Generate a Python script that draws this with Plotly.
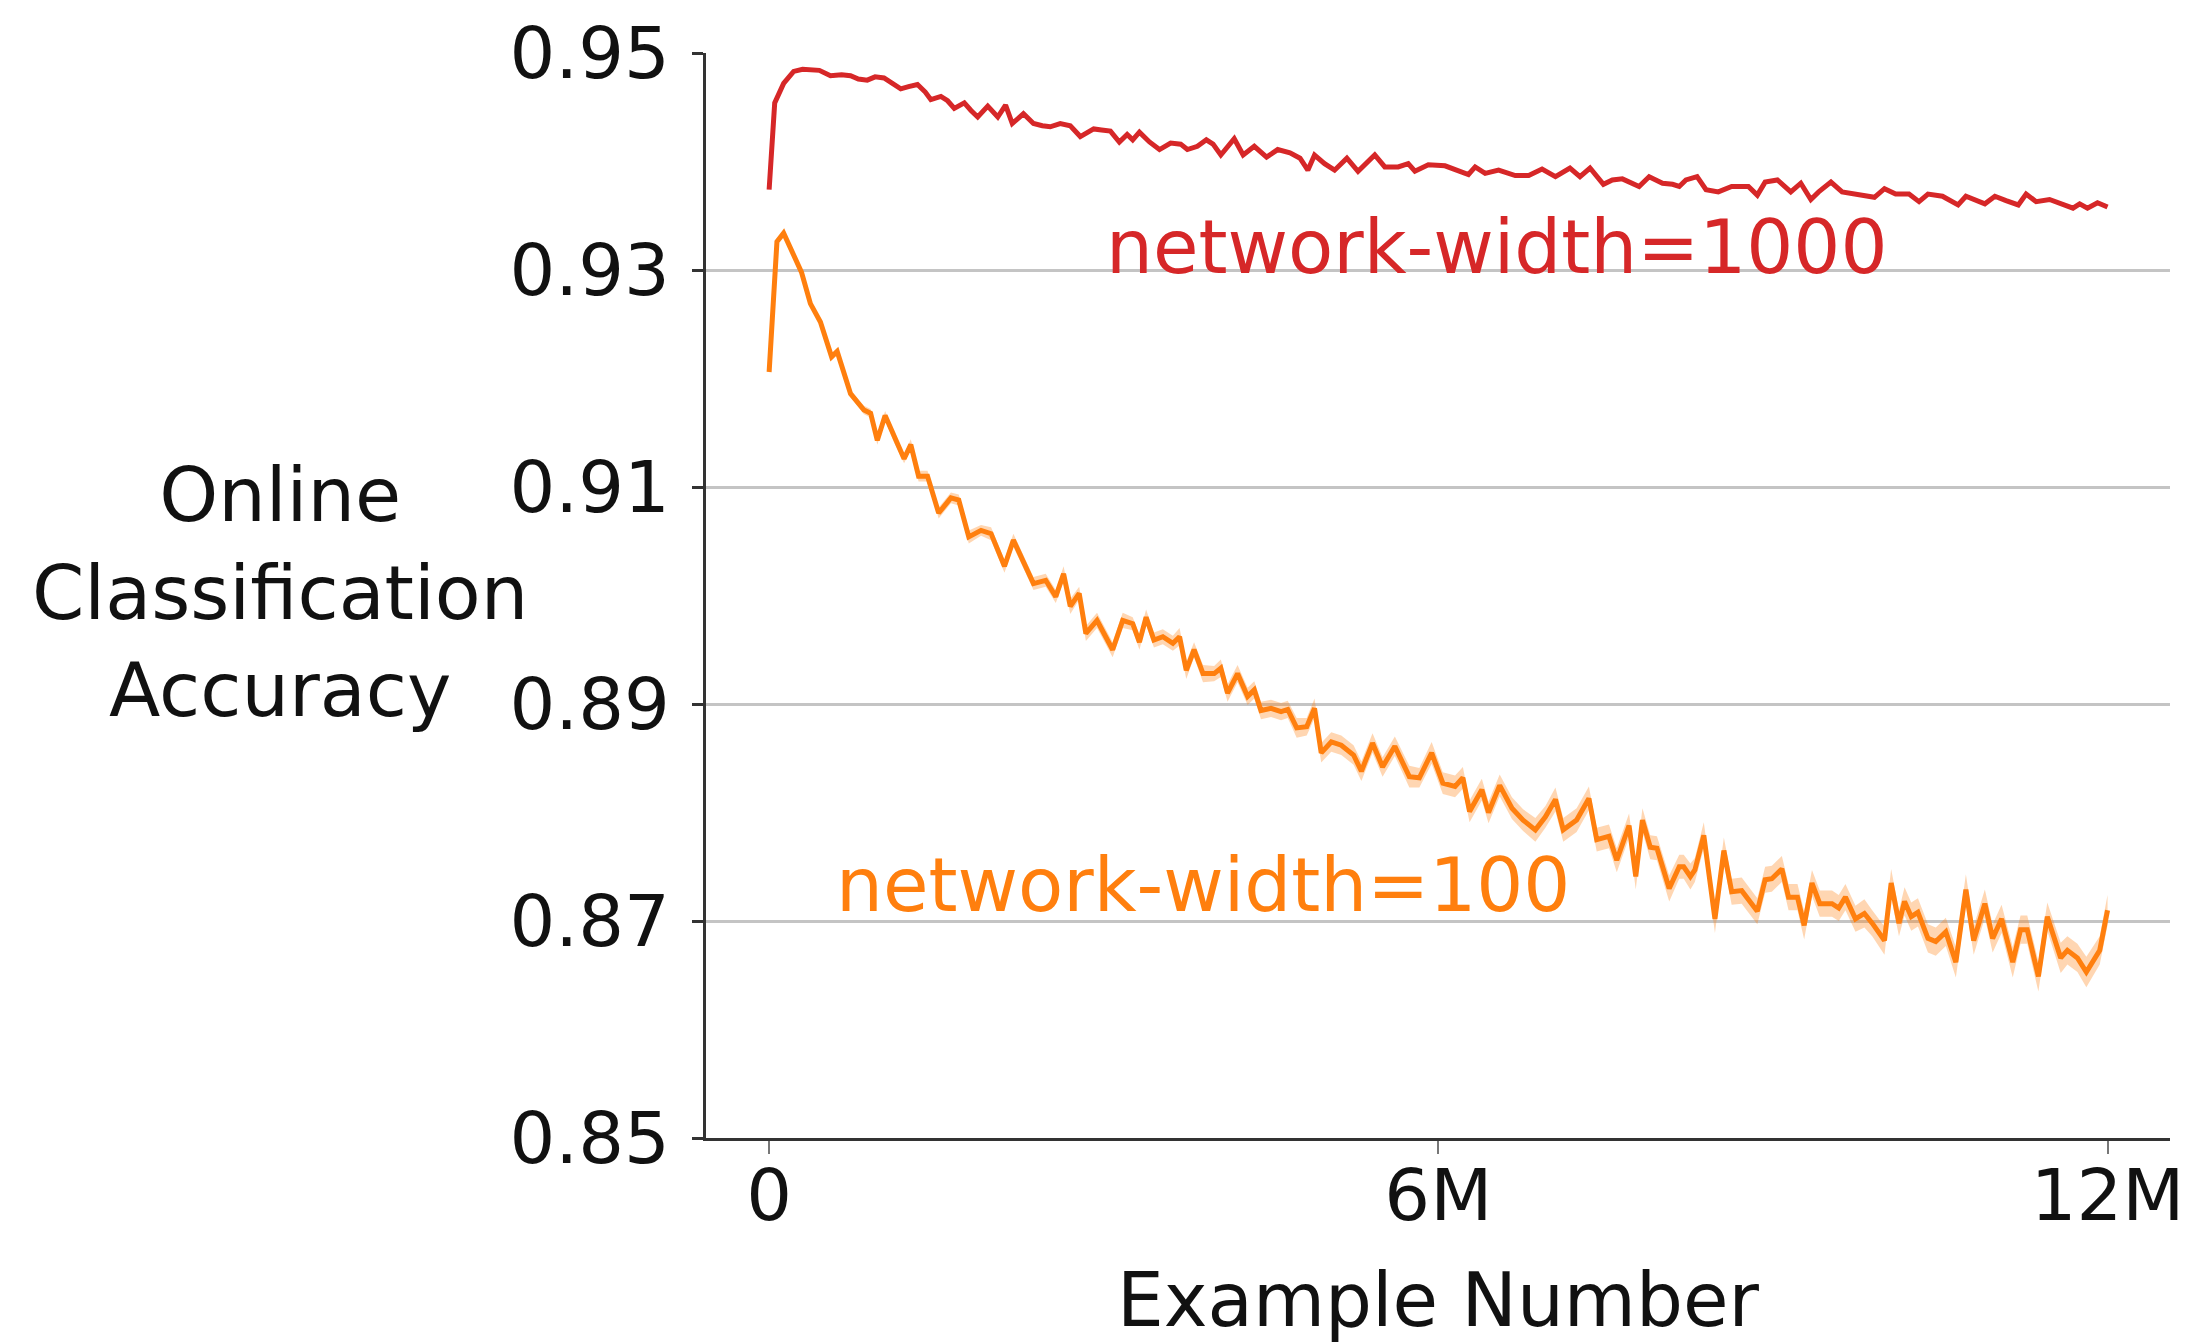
import plotly.graph_objects as go

# ---------------- data (x in millions of examples) ----------------
x_red_m = [
    0.00, 0.05, 0.13, 0.22, 0.30, 0.37, 0.45, 0.55, 0.65, 0.73,
    0.80, 0.88, 0.95, 1.03, 1.10, 1.18, 1.25, 1.33, 1.40, 1.45,
    1.54, 1.60, 1.66, 1.75, 1.81, 1.87, 1.96, 2.05, 2.12, 2.18,
    2.28, 2.37, 2.45, 2.52, 2.61, 2.70, 2.79, 2.91, 2.98, 3.06,
    3.14, 3.21, 3.26, 3.32, 3.41, 3.50, 3.60, 3.69, 3.75, 3.84,
    3.92, 3.98, 4.05, 4.17, 4.25, 4.35, 4.46, 4.56, 4.67, 4.76,
    4.83, 4.89, 4.98, 5.07, 5.18, 5.28, 5.43, 5.52, 5.64, 5.73,
    5.79, 5.91, 6.06, 6.18, 6.27, 6.33, 6.42, 6.54, 6.69, 6.81,
    6.93, 7.05, 7.18, 7.27, 7.36, 7.48, 7.56, 7.65, 7.80, 7.89,
    8.01, 8.10, 8.16, 8.22, 8.32, 8.40, 8.51, 8.63, 8.78, 8.86,
    8.93, 9.04, 9.16, 9.25, 9.34, 9.41, 9.52, 9.62, 9.77, 9.91,
    10.00, 10.10, 10.22, 10.31, 10.39, 10.52, 10.66, 10.73, 10.90, 10.99,
    11.09, 11.20, 11.27, 11.36, 11.48, 11.58, 11.69, 11.75, 11.82, 11.91,
    12.00,
]
acc_red = [
    0.9374, 0.9454, 0.9472, 0.9483, 0.9485, 0.9484, 0.9484, 0.9479, 0.9480, 0.9479,
    0.9476, 0.9475, 0.9478, 0.9477, 0.9472, 0.9467, 0.9469, 0.9471, 0.9464, 0.9457,
    0.9460, 0.9456, 0.9449, 0.9454, 0.9447, 0.9441, 0.9451, 0.9441, 0.9452, 0.9435,
    0.9444, 0.9435, 0.9433, 0.9432, 0.9435, 0.9433, 0.9423, 0.9430, 0.9429, 0.9428,
    0.9418, 0.9425, 0.9420, 0.9427, 0.9418, 0.9411, 0.9417, 0.9416, 0.9411, 0.9414,
    0.9420, 0.9416, 0.9406, 0.9421, 0.9406, 0.9414, 0.9404, 0.9411, 0.9408, 0.9403,
    0.9392, 0.9406, 0.9398, 0.9392, 0.9403, 0.9391, 0.9406, 0.9395, 0.9395, 0.9398,
    0.9391, 0.9397, 0.9396, 0.9391, 0.9388, 0.9395, 0.9389, 0.9392, 0.9387, 0.9387,
    0.9393, 0.9386, 0.9394, 0.9386, 0.9394, 0.9379, 0.9383, 0.9384, 0.9377, 0.9386,
    0.9380, 0.9379, 0.9377, 0.9383, 0.9386, 0.9374, 0.9372, 0.9377, 0.9377, 0.9369,
    0.9381, 0.9383, 0.9372, 0.9380, 0.9365, 0.9372, 0.9381, 0.9372, 0.9370, 0.9367,
    0.9375, 0.9370, 0.9370, 0.9363, 0.9370, 0.9368, 0.9360, 0.9368, 0.9361, 0.9368,
    0.9364, 0.9360, 0.9370, 0.9363, 0.9365, 0.9361, 0.9357, 0.9361, 0.9357, 0.9362,
    0.9358,
]

x_orange_m = [
    0.00, 0.07, 0.13, 0.22, 0.29, 0.37, 0.46, 0.56, 0.61, 0.73,
    0.85, 0.91, 0.97, 1.04, 1.12, 1.21, 1.27, 1.34, 1.42, 1.52,
    1.63, 1.70, 1.79, 1.90, 1.99, 2.11, 2.19, 2.28, 2.37, 2.48,
    2.57, 2.64, 2.70, 2.78, 2.84, 2.94, 3.08, 3.17, 3.26, 3.32,
    3.38, 3.45, 3.53, 3.62, 3.68, 3.74, 3.81, 3.89, 3.99, 4.05,
    4.11, 4.20, 4.29, 4.35, 4.41, 4.50, 4.59, 4.65, 4.73, 4.82,
    4.89, 4.95, 5.04, 5.13, 5.24, 5.31, 5.41, 5.50, 5.61, 5.74,
    5.83, 5.94, 6.04, 6.15, 6.22, 6.28, 6.39, 6.45, 6.55, 6.66,
    6.76, 6.87, 6.96, 7.05, 7.12, 7.24, 7.35, 7.42, 7.53, 7.60,
    7.71, 7.77, 7.83, 7.90, 7.96, 8.07, 8.16, 8.20, 8.26, 8.30,
    8.38, 8.48, 8.56, 8.63, 8.72, 8.86, 8.93, 8.99, 9.08, 9.14,
    9.22, 9.28, 9.35, 9.42, 9.53, 9.59, 9.65, 9.74, 9.82, 9.89,
    10.00, 10.06, 10.13, 10.18, 10.24, 10.30, 10.39, 10.46, 10.55, 10.64,
    10.73, 10.80, 10.90, 10.97, 11.05, 11.15, 11.22, 11.28, 11.38, 11.46,
    11.58, 11.64, 11.73, 11.81, 11.93, 12.00,
]
acc_orange = [
    0.9206, 0.9326, 0.9334, 0.9315, 0.9298, 0.9269, 0.9252, 0.9220, 0.9225, 0.9186,
    0.9171, 0.9168, 0.9143, 0.9166, 0.9146, 0.9126, 0.9139, 0.9110, 0.9110, 0.9076,
    0.9090, 0.9088, 0.9054, 0.9060, 0.9057, 0.9027, 0.9051, 0.9031, 0.9011, 0.9014,
    0.8999, 0.9020, 0.8990, 0.9002, 0.8965, 0.8977, 0.8950, 0.8977, 0.8974, 0.8957,
    0.8980, 0.8959, 0.8962, 0.8956, 0.8962, 0.8931, 0.8950, 0.8928, 0.8928, 0.8933,
    0.8910, 0.8928, 0.8907, 0.8913, 0.8894, 0.8896, 0.8893, 0.8895, 0.8878, 0.8879,
    0.8896, 0.8855, 0.8865, 0.8862, 0.8853, 0.8838, 0.8864, 0.8842, 0.8861, 0.8833,
    0.8832, 0.8855, 0.8827, 0.8824, 0.8832, 0.8801, 0.8821, 0.8800, 0.8825, 0.8804,
    0.8793, 0.8784, 0.8796, 0.8812, 0.8784, 0.8793, 0.8813, 0.8775, 0.8778, 0.8756,
    0.8788, 0.8741, 0.8793, 0.8768, 0.8767, 0.8730, 0.8750, 0.8750, 0.8741, 0.8747,
    0.8779, 0.8702, 0.8765, 0.8727, 0.8728, 0.8709, 0.8738, 0.8739, 0.8748, 0.8722,
    0.8722, 0.8696, 0.8735, 0.8716, 0.8716, 0.8712, 0.8722, 0.8702, 0.8707, 0.8698,
    0.8682, 0.8735, 0.8698, 0.8718, 0.8704, 0.8708, 0.8684, 0.8681, 0.8690, 0.8662,
    0.8729, 0.8682, 0.8716, 0.8684, 0.8702, 0.8662, 0.8692, 0.8692, 0.8649, 0.8704,
    0.8666, 0.8673, 0.8666, 0.8653, 0.8673, 0.8710,
]
err_orange = [
    0.0002, 0.0002, 0.0002, 0.0002, 0.0002, 0.0003, 0.0003, 0.0003, 0.0003, 0.0003,
    0.0004, 0.0004, 0.0004, 0.0004, 0.0005, 0.0004, 0.0005, 0.0005, 0.0005, 0.0005,
    0.0005, 0.0005, 0.0006, 0.0005, 0.0006, 0.0006, 0.0006, 0.0006, 0.0006, 0.0006,
    0.0006, 0.0007, 0.0007, 0.0006, 0.0007, 0.0007, 0.0007, 0.0007, 0.0006, 0.0007,
    0.0007, 0.0007, 0.0007, 0.0007, 0.0008, 0.0008, 0.0007, 0.0008, 0.0007, 0.0008,
    0.0008, 0.0008, 0.0008, 0.0008, 0.0008, 0.0008, 0.0008, 0.0008, 0.0009, 0.0008,
    0.0009, 0.0009, 0.0009, 0.0009, 0.0009, 0.0009, 0.0009, 0.0009, 0.0009, 0.0010,
    0.0009, 0.0010, 0.0010, 0.0010, 0.0010, 0.0010, 0.0010, 0.0010, 0.0010, 0.0010,
    0.0010, 0.0011, 0.0010, 0.0011, 0.0011, 0.0011, 0.0011, 0.0011, 0.0011, 0.0011,
    0.0011, 0.0012, 0.0011, 0.0011, 0.0011, 0.0012, 0.0011, 0.0011, 0.0012, 0.0011,
    0.0012, 0.0013, 0.0012, 0.0012, 0.0012, 0.0012, 0.0012, 0.0012, 0.0012, 0.0012,
    0.0012, 0.0013, 0.0012, 0.0012, 0.0012, 0.0012, 0.0012, 0.0012, 0.0013, 0.0012,
    0.0013, 0.0013, 0.0012, 0.0013, 0.0013, 0.0013, 0.0013, 0.0013, 0.0013, 0.0014,
    0.0014, 0.0013, 0.0013, 0.0013, 0.0013, 0.0014, 0.0013, 0.0013, 0.0014, 0.0013,
    0.0014, 0.0013, 0.0013, 0.0014, 0.0013, 0.0014,
]

y_tick_vals = [0.85, 0.87, 0.89, 0.91, 0.93, 0.95]
y_tick_text = ["0.85", "0.87", "0.89", "0.91", "0.93", "0.95"]
x_tick_vals = [0, 6_000_000, 12_000_000]
x_tick_text = ["0", "6M", "12M"]

RED = "#d62728"
ORANGE = "#ff7f0e"
FONT = "DejaVu Sans"
FS = 72
TXT = "#111111"

x_red = [v * 1e6 for v in x_red_m]
x_orange = [v * 1e6 for v in x_orange_m]
upper_o = [a + e for a, e in zip(acc_orange, err_orange)]
lower_o = [a - e for a, e in zip(acc_orange, err_orange)]

fig = go.Figure()
fig.add_trace(go.Scatter(x=x_orange, y=upper_o, mode="lines", line=dict(width=0),
                         hoverinfo="skip", showlegend=False))
fig.add_trace(go.Scatter(x=x_orange, y=lower_o, mode="lines", line=dict(width=0),
                         fill="tonexty", fillcolor="rgba(255,127,14,0.32)",
                         hoverinfo="skip", showlegend=False))
fig.add_trace(go.Scatter(x=x_orange, y=acc_orange, mode="lines",
                         line=dict(color=ORANGE, width=5), showlegend=False,
                         name="network-width=100"))
fig.add_trace(go.Scatter(x=x_red, y=acc_red, mode="lines",
                         line=dict(color=RED, width=5), showlegend=False,
                         name="network-width=1000"))

fig.add_annotation(x=6.53e6, y=0.9321, text="network-width=1000", showarrow=False,
                   font=dict(family=FONT, size=74, color=RED),
                   xanchor="center", yanchor="middle")
fig.add_annotation(x=3.89e6, y=0.8733, text="network-width=100", showarrow=False,
                   font=dict(family=FONT, size=74, color=ORANGE),
                   xanchor="center", yanchor="middle")
fig.add_annotation(xref="paper", yref="paper", x=-0.291, y=0.503,
                   text="Online<br>Classification<br>Accuracy", showarrow=False,
                   font=dict(family=FONT, size=75, color=TXT),
                   xanchor="center", yanchor="middle", align="center")
fig.add_annotation(xref="paper", yref="paper", x=0.5, y=-0.149,
                   text="Example Number", showarrow=False,
                   font=dict(family=FONT, size=74, color=TXT),
                   xanchor="center", yanchor="middle")

# the page body adds an 8 px offset, so the figure is 8 px smaller each way
fig.update_layout(
    width=2184, height=1334,
    margin=dict(l=698, r=22, t=45, b=204, autoexpand=False),
    paper_bgcolor="white", plot_bgcolor="white",
    font=dict(family=FONT, size=FS, color=TXT),
    showlegend=False,
)
fig.update_xaxes(
    range=[-0.566e6, 12.56e6], automargin=False,
    tickvals=x_tick_vals, ticktext=x_tick_text,
    showgrid=False, zeroline=False,
    showline=True, linecolor="#333333", linewidth=2.5,
    ticks="outside", ticklen=13, tickwidth=2, tickcolor="#777777",
    ticklabelstandoff=-20,
    tickfont=dict(family=FONT, size=FS, color=TXT),
)
fig.update_yaxes(
    range=[0.85, 0.95], automargin=False,
    tickvals=y_tick_vals, ticktext=y_tick_text,
    showgrid=True, gridcolor="#c4c4c4", gridwidth=2.5,
    zeroline=False,
    showline=True, linecolor="#333333", linewidth=2.5,
    ticks="outside", ticklen=11, tickwidth=2.5, tickcolor="#333333",
    ticklabelstandoff=8,
    tickfont=dict(family=FONT, size=FS, color=TXT),
)

fig.write_html("out.html")
